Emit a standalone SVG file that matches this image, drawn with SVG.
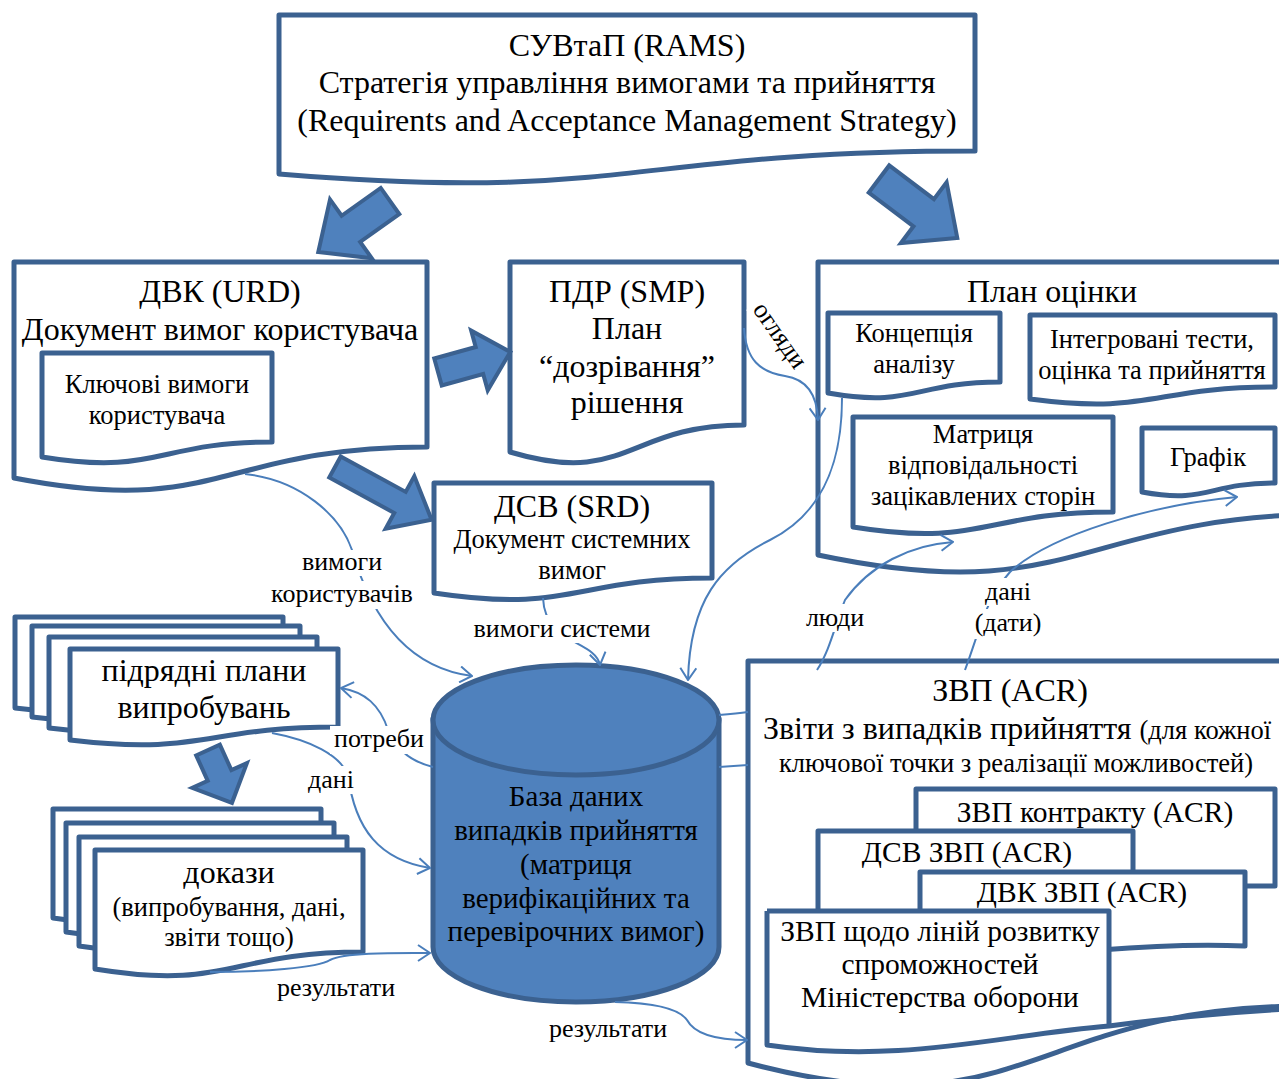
<svg xmlns="http://www.w3.org/2000/svg" width="1279" height="1079" viewBox="0 0 1279 1079">
<defs>
<style>
.doc{fill:#fff;stroke:#3B6190;stroke-width:5;stroke-linejoin:round}
.barrow{fill:#4F81BD;stroke:#3B6190;stroke-width:4;stroke-linejoin:miter}
.con{fill:none;stroke:#4A7EBB;stroke-width:2}
.t{font-family:"Liberation Serif","Times New Roman",serif;fill:#000;text-anchor:middle}
.f28{font-size:32px}.f26{font-size:29.5px}.f25{font-size:29px}.f22{font-size:26.5px}
.lbl{font-family:"Liberation Serif","Times New Roman",serif;font-size:26px;fill:#000;text-anchor:middle}
</style>
<marker id="ah" viewBox="0 0 14 18" refX="13" refY="9" markerWidth="14" markerHeight="18" markerUnits="userSpaceOnUse" orient="auto">
<path d="M1,1 L13,9 L1,17" fill="none" stroke="#4A7EBB" stroke-width="2"/>
</marker>
</defs>
<rect width="1279" height="1079" fill="#fff"/>

<g id="rams">
<path class="doc" d="M279,15 H975 V151 C627,151 627,203 279,174 Z"/>
<text class="t f28" x="627" y="56">СУВтаП (RAMS)</text>
<text class="t f28" x="627" y="93">Стратегія управління вимогами та прийняття</text>
<text class="t f28" x="627" y="131">(Requirents and Acceptance Management Strategy)</text>
</g>

<g id="urd">
<path class="doc" d="M14,262 H427 V447 C220,447 220,518 14,478 Z"/>
<text class="t f28" x="220" y="302">ДВК (URD)</text>
<text class="t f28" x="220" y="340">Документ вимог користувача</text>
</g>
<g id="key-req">
<path class="doc" d="M42,353 H272 V442 C157,442 157,476 42,457 Z"/>
<text class="t f22" x="157" y="393">Ключові вимоги</text>
<text class="t f22" x="157" y="424">користувача</text>
</g>

<g id="smp">
<path class="doc" d="M510,262 H744 V425 C627,425 627,487 510,452 Z"/>
<text class="t f28" x="627" y="302">ПДР (SMP)</text>
<text class="t f28" x="627" y="339">План</text>
<text class="t f28" x="627" y="377">“дозрівання”</text>
<text class="t f28" x="627" y="413">рішення</text>
</g>

<g id="plan">
<path class="doc" d="M818,262 H1338 V514 C1078,514 1078,610 818,555 Z"/>
<text class="t f28" x="1052" y="302">План оцінки</text>
</g>
<g id="concept">
<path class="doc" d="M828,313 H1000 V382 C914,382 914,408 828,393 Z"/>
<text class="t f22" x="914" y="342">Концепція</text>
<text class="t f22" x="914" y="373">аналізу</text>
</g>
<g id="integrated">
<path class="doc" d="M1030,315 H1275 V387 C1152,387 1152,415 1030,399 Z"/>
<text class="t f22" x="1152" y="348">Інтегровані тести,</text>
<text class="t f22" x="1152" y="379">оцінка та прийняття</text>
</g>
<g id="matrix">
<path class="doc" d="M853,417 H1113 V512 C983,512 983,548 853,527 Z"/>
<text class="t f22" x="983" y="443">Матриця</text>
<text class="t f22" x="983" y="474">відповідальності</text>
<text class="t f22" x="983" y="505">зацікавлених сторін</text>
</g>
<g id="schedule">
<path class="doc" d="M1142,428 H1275 V483 C1208,483 1208,504 1142,492 Z"/>
<text class="t f22" x="1208" y="466">Графік</text>
</g>

<g id="srd">
<path class="doc" d="M434,483 H712 V578 C573,578 573,614 434,593 Z"/>
<text class="t f28" x="572" y="517">ДСВ (SRD)</text>
<text class="t f22" x="572" y="548">Документ системних</text>
<text class="t f22" x="572" y="579">вимог</text>
</g>

<g id="test-plans">
<path class="doc" d="M15,617 H283 V695 C149,695 149,724 15,708 Z"/>
<path class="doc" d="M32,626 H300 V704 C166,704 166,733 32,717 Z"/>
<path class="doc" d="M49,637 H317 V715 C183,715 183,744 49,728 Z"/>
<path class="doc" d="M70,649 H338 V727 C204,727 204,756 70,740 Z"/>
<text class="t f28" x="204" y="681">підрядні плани</text>
<text class="t f28" x="204" y="718">випробувань</text>
</g>

<g id="evidence">
<path class="doc" d="M53,809 H321 V903 C187,903 187,938 53,918 Z"/>
<path class="doc" d="M66,823 H334 V917 C200,917 200,952 66,932 Z"/>
<path class="doc" d="M79,837 H347 V931 C213,931 213,966 79,946 Z"/>
<path class="doc" d="M95,850 H363 V952 C229,952 229,991 95,969 Z"/>
<text class="t f28" x="229" y="883">докази</text>
<text class="t f22" x="229" y="916">(випробування, дані,</text>
<text class="t f22" x="229" y="946">звіти тощо)</text>
</g>

<g id="database">
<path d="M433,720 V947 A143,55 0 0 0 719,947 V720 Z" fill="#4F81BD" stroke="#3B6190" stroke-width="5"/>
<ellipse cx="576" cy="720" rx="143" ry="55" fill="#4F81BD" stroke="#3B6190" stroke-width="5"/>
<text class="t f25" x="576" y="806">База даних</text>
<text class="t f25" x="576" y="840">випадків прийняття</text>
<text class="t f25" x="576" y="874">(матриця</text>
<text class="t f25" x="576" y="908">верифікаційних та</text>
<text class="t f25" x="576" y="941">перевірочних вимог)</text>
</g>

<g id="acr">
<path class="doc" d="M748,661 H1308 V1006 C1028,1006 1028,1137 748,1063 Z"/>
<text class="t f28" x="1010" y="701">ЗВП (ACR)</text>
<text class="t f28" x="1017" y="739">Звіти з випадків прийняття <tspan class="f22">(для кожної</tspan></text>
<text class="t f22" x="1016" y="772">ключової точки з реалізації можливостей)</text>
</g>
<g id="acr-contract">
<rect class="doc" x="916" y="789" width="359" height="97"/>
<text class="t f26" x="1095" y="822">ЗВП контракту (ACR)</text>
</g>
<g id="acr-srd">
<rect class="doc" x="818" y="831" width="315" height="110"/>
<text class="t f26" x="967" y="862">ДСВ ЗВП (ACR)</text>
</g>
<g id="acr-urd">
<path class="doc" d="M920,872 H1245 V946 C1200,944 1150,946 1100,950 L920,950 Z"/>
<text class="t f26" x="1082" y="902">ДВК ЗВП (ACR)</text>
</g>
<g id="acr-mod">
<path d="M767,911 H1109 V1026 C1000,1035 900,1065 767,1045 Z" fill="#fff"/>
<path d="M767,911 H1109 V1026" fill="none" stroke="#3B6190" stroke-width="5" stroke-linejoin="round"/>
<path d="M767,911 V1045 C900,1065 1000,1035 1109,1026 C1170,1018 1230,1012 1290,1009" fill="none" stroke="#3B6190" stroke-width="5" stroke-linejoin="round"/>
<text class="t f26" x="940" y="941">ЗВП щодо ліній розвитку</text>
<text class="t f26" x="940" y="974">спроможностей</text>
<text class="t f26" x="940" y="1007">Міністерства оборони</text>
</g>

<g id="block-arrows">
<polygon class="barrow" transform="translate(390,201) rotate(144.6)" points="0,-16 48,-16 48,-36 88,0 48,36 48,16 0,16"/>
<polygon class="barrow" transform="translate(879,179) rotate(37)" points="0,-17 56,-17 56,-38 98,0 56,38 56,17 0,17"/>
<polygon class="barrow" transform="translate(438,372) rotate(-15.5)" points="0,-14 43,-14 43,-31 75,0 43,31 43,14 0,14"/>
<polygon class="barrow" transform="translate(335,467) rotate(28.6)" points="0,-12 74,-12 74,-30 110,0 74,30 74,12 0,12"/>
<polygon class="barrow" transform="translate(208,750) rotate(65.6)" points="0,-13 28,-13 28,-30 58,0 28,30 28,13 0,13"/>
</g>

<g id="connectors">
<path class="con" d="M744,328 C746,360 760,372 785,376 C805,379 817,392 818,420" marker-end="url(#ah)"/>
<path class="con" d="M842,398 C842,450 830,510 770,540 C720,565 690,600 688,680" marker-end="url(#ah)"/>
<path class="con" d="M817,670 C830,650 835,625 845,600 C870,565 910,545 953,542" marker-end="url(#ah)"/>
<path class="con" d="M965,670 C980,630 985,600 1010,572 C1050,535 1150,505 1237,497" marker-end="url(#ah)"/>
<path class="con" d="M245,474 C300,480 340,515 352,550 C372,620 410,668 472,676" marker-end="url(#ah)"/>
<path class="con" d="M543,598 C545,645 595,640 600,665" marker-end="url(#ah)"/>
<path class="con" d="M433,767 C405,760 395,745 388,730 C380,705 365,692 341,688" marker-end="url(#ah)"/>
<path class="con" d="M272,733 C310,740 340,755 348,775 C355,830 380,860 430,868" marker-end="url(#ah)"/>
<path class="con" d="M210,972 C260,972 318,968 330,960 C345,952 400,953 430,953" marker-end="url(#ah)"/>
<path class="con" d="M615,1002 C660,1003 680,1010 687,1020 C695,1035 720,1040 747,1040" marker-end="url(#ah)"/>
<path class="con" d="M719,715 C730,714 740,713 748,712"/>
<path class="con" d="M719,767 L748,765"/>
</g>

<g id="labels">
<g transform="translate(779,336) rotate(55)">
<rect x="-40" y="-16" width="80" height="28" fill="#fff"/>
<text class="lbl" x="0" y="7">огляди</text>
</g>
<rect x="296" y="550" width="92" height="26" fill="#fff"/>
<rect x="264" y="581" width="156" height="28" fill="#fff"/>
<text class="lbl" x="342" y="570">вимоги</text>
<text class="lbl" x="342" y="602">користувачів</text>
<rect x="466" y="615" width="192" height="28" fill="#fff"/>
<text class="lbl" x="562" y="637">вимоги системи</text>
<rect x="800" y="604" width="70" height="28" fill="#fff"/>
<text class="lbl" x="835" y="626">люди</text>
<rect x="980" y="578" width="56" height="28" fill="#fff"/>
<rect x="968" y="609" width="82" height="30" fill="#fff"/>
<text class="lbl" x="1008" y="600">дані</text>
<text class="lbl" x="1008" y="631">(дати)</text>
<rect x="330" y="726" width="98" height="28" fill="#fff"/>
<text class="lbl" x="379" y="747">потреби</text>
<rect x="303" y="766" width="56" height="28" fill="#fff"/>
<text class="lbl" x="331" y="788">дані</text>
<text class="lbl" x="336" y="996">результати</text>
<text class="lbl" x="608" y="1037">результати</text>
</g>
</svg>
